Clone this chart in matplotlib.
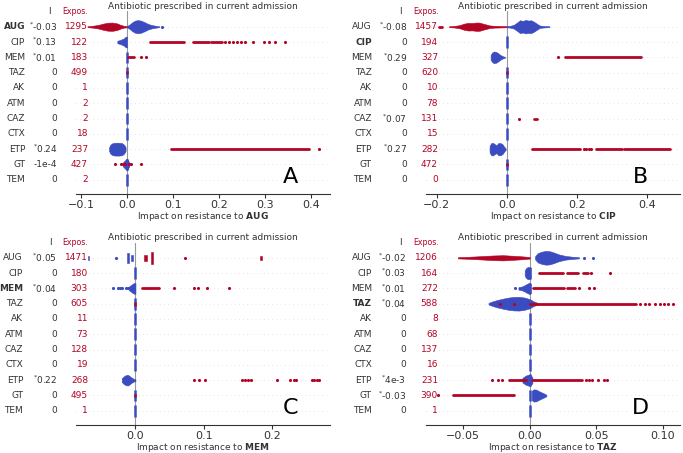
import matplotlib
matplotlib.use("Agg")
import matplotlib.pyplot as plt
from matplotlib.transforms import blended_transform_factory

RED = "#b40426"
BLUE = "#3b4cc0"
W, H = 683, 453

features = ["AUG", "CIP", "MEM", "TAZ", "AK", "ATM", "CAZ", "CTX", "ETP", "GT", "TEM"]
title_text = "Antibiotic prescribed in current admission"

# ---------------- Panel A (AUG) ----------------
A_target = "AUG"
A_impact = ["-0.03", "0.13", "0.01", "0", "0", "0", "0", "0", "0.24", "-1e-4", "0"]
A_star = [1, 1, 1, 0, 0, 0, 0, 0, 1, 0, 0]
A_expos = [1295, 122, 183, 499, 1, 2, 2, 18, 237, 427, 2]
A_xlim = (-0.111, 0.442)
A_xticks = [-0.1, 0.0, 0.1, 0.2, 0.3, 0.4]
A_zero_blue = ["MEM", "TAZ", "AK", "ATM", "CAZ", "CTX", "GT", "TEM"]
A_zero_red = ["TAZ"]
A_blobs = [
    ("AUG", RED, [-0.086, -0.075, -0.062, -0.052, -0.042, -0.032, -0.022, -0.014, -0.007, 0.0],
     [0.03, 0.06, 0.12, 0.2, 0.26, 0.27, 0.22, 0.12, 0.06, 0.04]),
    ("AUG", BLUE, [0.0, 0.006, 0.012, 0.018, 0.024, 0.03, 0.038, 0.046, 0.055, 0.063, 0.07],
     [0.04, 0.15, 0.3, 0.4, 0.43, 0.4, 0.3, 0.18, 0.1, 0.06, 0.03]),
    ("CIP", BLUE, [-0.021, -0.016, -0.011, -0.006, -0.003, 0.0], [0.08, 0.12, 0.18, 0.25, 0.35, 0.35]),
    ("ETP", BLUE, [-0.039, -0.036, -0.031, -0.025, -0.018, -0.011, -0.006, -0.003],
     [0.12, 0.3, 0.4, 0.42, 0.42, 0.4, 0.28, 0.12]),
    ("GT", BLUE, [-0.009, -0.005, 0.0, 0.005], [0.12, 0.25, 0.4, 0.12]),
]
A_streaks = [("CIP", RED, 0.051, 0.125), ("CIP", RED, 0.143, 0.178), ("CIP", RED, 0.183, 0.207),
             ("MEM", RED, 0.002, 0.016), ("ETP", RED, 0.096, 0.397)]
A_dots = [("CIP", RED, [0.214, 0.222, 0.231, 0.24, 0.248, 0.257, 0.275, 0.298, 0.31, 0.322, 0.343]),
          ("MEM", RED, [0.031, 0.042]), ("ETP", RED, [0.417]),
          ("GT", RED, [-0.027, -0.013, -0.009, -0.004, 0.004, 0.008, 0.031]),
          ("AUG", BLUE, [0.076])]

# ---------------- Panel B (CIP) ----------------
B_target = "CIP"
B_impact = ["-0.08", "0", "0.29", "0", "0", "0", "0.07", "0", "0.27", "0", "0"]
B_star = [1, 0, 1, 0, 0, 0, 1, 0, 1, 0, 0]
B_expos = [1457, 194, 327, 620, 10, 78, 131, 15, 282, 472, 0]
B_xlim = (-0.2306, 0.495)
B_xticks = [-0.2, 0.0, 0.2, 0.4]
B_zero_blue = ["CIP", "TAZ", "AK", "ATM", "CAZ", "CTX", "GT", "TEM"]
B_zero_red = ["TAZ", "GT"]
B_blobs = [
    ("AUG", RED, [-0.165, -0.15, -0.135, -0.122, -0.11, -0.098, -0.088, -0.078, -0.068, -0.058, -0.048, -0.035, -0.02, 0.0],
     [0.03, 0.05, 0.1, 0.2, 0.25, 0.24, 0.27, 0.27, 0.2, 0.14, 0.08, 0.06, 0.05, 0.04]),
    ("AUG", BLUE, [0.0, 0.01, 0.02, 0.03, 0.038, 0.046, 0.054, 0.062, 0.07, 0.078, 0.086, 0.094, 0.105, 0.122],
     [0.04, 0.06, 0.12, 0.28, 0.42, 0.38, 0.44, 0.4, 0.42, 0.32, 0.2, 0.08, 0.05, 0.03]),
    ("MEM", BLUE, [-0.046, -0.042, -0.037, -0.031, -0.025, -0.018, -0.011, -0.005],
     [0.15, 0.3, 0.38, 0.36, 0.28, 0.15, 0.07, 0.03]),
    ("ETP", BLUE, [-0.049, -0.045, -0.04, -0.034, -0.029, -0.024, -0.018, -0.012, -0.007, -0.003],
     [0.2, 0.38, 0.42, 0.32, 0.26, 0.4, 0.4, 0.32, 0.15, 0.05]),
]
B_streaks = [("AUG", RED, -0.194, -0.184), ("MEM", RED, 0.167, 0.384), ("CAZ", RED, 0.079, 0.086),
             ("ETP", RED, 0.072, 0.208), ("ETP", RED, 0.255, 0.33), ("ETP", RED, 0.336, 0.467)]
B_dots = [("MEM", RED, [0.146]), ("CAZ", RED, [0.034]), ("ETP", RED, [0.222, 0.226, 0.235, 0.24])]

# ---------------- Panel C (MEM) ----------------
C_target = "MEM"
C_impact = ["0.05", "0", "0.04", "0", "0", "0", "0", "0", "0.22", "0", "0"]
C_star = [1, 0, 1, 0, 0, 0, 0, 0, 1, 0, 0]
C_expos = [1471, 180, 303, 605, 11, 73, 128, 19, 268, 495, 1]
C_xlim = (-0.0868, 0.284)
C_xticks = [0.0, 0.1, 0.2]
C_zero_blue = ["CIP", "TAZ", "AK", "ATM", "CAZ", "CTX", "GT", "TEM"]
C_zero_red = ["TAZ", "GT"]
C_blobs = [
    ("AUG", BLUE, [-0.0695, -0.0675], [0.12, 0.12]),
    ("AUG", BLUE, [-0.0118, -0.0098], [0.32, 0.32]),
    ("AUG", BLUE, [-0.007, -0.004], [0.18, 0.18]),
    ("AUG", RED, [0.0125, 0.0165], [0.18, 0.18]),
    ("AUG", RED, [0.0228, 0.0252], [0.4, 0.4]),
    ("AUG", RED, [0.1825, 0.1845], [0.12, 0.12]),
    ("MEM", BLUE, [-0.0095, -0.007, -0.004, -0.002, 0.0], [0.12, 0.2, 0.3, 0.35, 0.35]),
    ("ETP", BLUE, [-0.02, -0.017, -0.014, -0.011, -0.008, -0.005, -0.002, 0.0],
     [0.12, 0.25, 0.33, 0.35, 0.25, 0.15, 0.08, 0.05]),
]
C_streaks = [("MEM", RED, 0.01, 0.035)]
C_dots = [("AUG", BLUE, [-0.028]), ("AUG", RED, [0.073]),
          ("MEM", BLUE, [-0.0326, -0.026, -0.0228, -0.019, -0.0141, -0.0116]),
          ("MEM", RED, [0.056, 0.085, 0.092, 0.105, 0.137]),
          ("ETP", RED, [0.085, 0.0925, 0.102, 0.156, 0.16, 0.164, 0.168, 0.206, 0.226, 0.231, 0.235,
                        0.258, 0.261, 0.265, 0.268])]

# ---------------- Panel D (TAZ) ----------------
D_target = "TAZ"
D_impact = ["-0.02", "0.03", "0.01", "0.04", "0", "0", "0", "0", "4e-3", "-0.03", "0"]
D_star = [1, 1, 1, 1, 0, 0, 0, 0, 1, 1, 0]
D_expos = [1206, 164, 272, 588, 8, 68, 137, 16, 231, 390, 1]
D_xlim = (-0.078, 0.113)
D_xticks = [-0.05, 0.0, 0.05, 0.10]
D_zero_blue = ["AK", "ATM", "CAZ", "CTX", "ETP", "GT", "TEM"]
D_zero_red = []
D_blobs = [
    ("AUG", RED, [-0.054, -0.045, -0.036, -0.028, -0.02, -0.012, -0.005, 0.0],
     [0.04, 0.07, 0.11, 0.15, 0.17, 0.13, 0.09, 0.05]),
    ("AUG", BLUE, [0.004, 0.006, 0.009, 0.012, 0.015, 0.018, 0.022, 0.027, 0.032, 0.037],
     [0.1, 0.3, 0.4, 0.45, 0.43, 0.35, 0.22, 0.12, 0.07, 0.04]),
    ("CIP", BLUE, [-0.0038, -0.003, -0.0015, 0.0, 0.001], [0.15, 0.3, 0.4, 0.4, 0.35]),
    ("MEM", BLUE, [-0.0085, -0.006, -0.004, -0.002, 0.0, 0.001], [0.08, 0.12, 0.2, 0.3, 0.38, 0.3]),
    ("TAZ", BLUE, [-0.031, -0.028, -0.024, -0.02, -0.016, -0.012, -0.008, -0.004, 0.0, 0.003, 0.006],
     [0.05, 0.15, 0.25, 0.33, 0.4, 0.44, 0.45, 0.4, 0.3, 0.15, 0.05]),
    ("ETP", BLUE, [-0.0055, -0.003, 0.0, 0.002], [0.15, 0.3, 0.38, 0.2]),
    ("GT", BLUE, [0.0015, 0.003, 0.005, 0.007, 0.009, 0.011, 0.0125], [0.3, 0.4, 0.38, 0.28, 0.2, 0.12, 0.05]),
]
D_streaks = [("CIP", RED, 0.007, 0.025), ("CIP", RED, 0.028, 0.036), ("CIP", RED, 0.04, 0.044),
             ("MEM", RED, 0.0025, 0.026), ("MEM", RED, 0.028, 0.034), ("TAZ", RED, 0.0, 0.08),
             ("ETP", RED, -0.0155, -0.003), ("ETP", RED, 0.002, 0.0395), ("GT", RED, -0.0575, -0.0118)]
D_dots = [("AUG", BLUE, [0.041, 0.0475]), ("CIP", RED, [0.046, 0.06]), ("MEM", RED, [0.037, 0.0445, 0.048]),
          ("MEM", BLUE, [-0.011]),
          ("TAZ", RED, [-0.022, -0.012, 0.083, 0.087, 0.09, 0.094, 0.098, 0.101, 0.104, 0.108]),
          ("ETP", RED, [-0.028, -0.024, -0.021, 0.042, 0.0445, 0.047, 0.0512, 0.056, 0.058]),
          ("GT", RED, [-0.069])]

FS = 6.5

fig = plt.figure(figsize=(W / 100, H / 100), dpi=100)


def draw_panel(rect, target, impact, star, expos, xlim, xticks, blobs, streaks, dots,
               zero_blue, zero_red, letter, cols):
    ax = fig.add_axes(rect)
    n = len(features)
    ax.set_xlim(*xlim)
    ax.set_ylim(n - 0.07, -1.0)
    for i in range(n):
        ax.axhline(i, color="#cccccc", lw=0.5, dashes=(1, 5), zorder=-1)
    ax.axvline(0, color="#999999", lw=0.8, zorder=0)
    idx = {f: i for i, f in enumerate(features)}
    for f in zero_blue:
        ax.vlines(0, idx[f] - 0.38, idx[f] + 0.38, color=BLUE, lw=1.8, zorder=2)
    for f in zero_red:
        ax.vlines(0, idx[f] - 0.12, idx[f] + 0.12, color=RED, lw=1.8, zorder=2.5)
    for f, c, xs, hs in blobs:
        y = idx[f]
        ax.fill_between(xs, [y - h for h in hs], [y + h for h in hs], color=c, lw=0.4,
                        edgecolor=c, zorder=2)
    for f, c, x0, x1 in streaks:
        ax.plot([x0, x1], [idx[f], idx[f]], color=c, lw=2.0, solid_capstyle="round", zorder=3)
    for f, c, xs in dots:
        ax.scatter(xs, [idx[f]] * len(xs), s=5, color=c, lw=0, zorder=3)

    for s in ["top", "right", "left"]:
        ax.spines[s].set_visible(False)
    ax.spines["bottom"].set_color("#333333")
    ax.spines["bottom"].set_linewidth(0.8)
    ax.set_yticks([])
    ax.set_xticks(xticks)
    ax.tick_params(axis="x", labelsize=8, colors="#333333", length=3, width=0.8, pad=1)
    ax.set_xlabel(r"Impact on resistance to $\mathbf{" + target + "}$", fontsize=FS,
                  color="#333333", labelpad=0.5)
    ax.set_title(title_text, fontsize=FS, color="#333333", pad=1.5)

    tr = blended_transform_factory(fig.transFigure, ax.transData)
    name_r, val_r, exp_r, ih, eh = cols
    for i, f in enumerate(features):
        ax.text(name_r / W, i, f, transform=tr, ha="right", va="center", fontsize=FS,
                color="#333333", fontweight="bold" if f == target else "normal")
        v = (r"$^{*}$" if star[i] else "") + impact[i]
        ax.text(val_r / W, i, v, transform=tr, ha="right", va="center", fontsize=FS, color="#333333")
        ax.text(exp_r / W, i, str(expos[i]), transform=tr, ha="right", va="center", fontsize=FS,
                color=RED)
    ax.text(ih / W, -1.0, "I", transform=tr, ha="center", va="center", fontsize=FS, color="#333333")
    ax.text(eh / W, -1.0, "Expos.", transform=tr, ha="center", va="center", fontsize=FS - 0.8,
            color=RED)
    ax.text(0.843, 9.8, letter, transform=blended_transform_factory(ax.transAxes, ax.transData),
            ha="center", va="center", fontsize=16, color="black")
    return ax


top_b = 1 - 194 / H
top_h = (194 - 11.4) / H
bot_b = 1 - 425 / H
bot_h = (425 - 242.5) / H
lx = 76 / W
rx = 426 / W
aw = 254 / W

draw_panel([lx, top_b, aw, top_h], A_target, A_impact, A_star, A_expos, A_xlim, A_xticks,
           A_blobs, A_streaks, A_dots, A_zero_blue, A_zero_red, "A", (25, 57, 88, 49, 75))
draw_panel([rx, top_b, aw, top_h], B_target, B_impact, B_star, B_expos, B_xlim, B_xticks,
           B_blobs, B_streaks, B_dots, B_zero_blue, B_zero_red, "B", (372, 407, 438, 400, 426))
draw_panel([lx, bot_b, aw, bot_h], C_target, C_impact, C_star, C_expos, C_xlim, C_xticks,
           C_blobs, C_streaks, C_dots, C_zero_blue, C_zero_red, "C", (23, 57, 88, 50, 75))
draw_panel([rx, bot_b, aw, bot_h], D_target, D_impact, D_star, D_expos, D_xlim, D_xticks,
           D_blobs, D_streaks, D_dots, D_zero_blue, D_zero_red, "D", (372, 406, 438, 400, 426))

fig.savefig("out.png", dpi=100)
